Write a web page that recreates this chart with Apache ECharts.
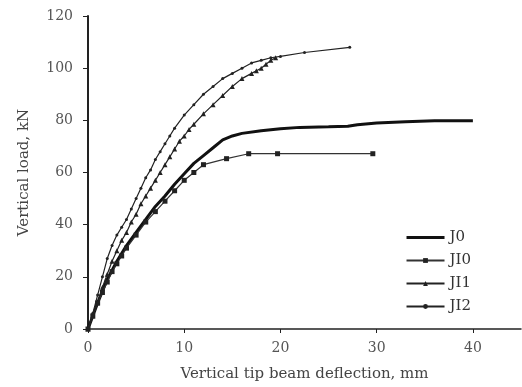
<!DOCTYPE html>
<html>
<head>
<meta charset="utf-8">
<script src="https://cdn.jsdelivr.net/npm/echarts@6/dist/echarts.min.js"></script>
<style>html,body{margin:0;padding:0;background:#fff}#c{width:522px;height:387px}</style>
</head>
<body>
<div id="c"></div>
<script>
const seriesNames = ['J0', 'JI0', 'JI1', 'JI2'];
const xTicks = [0, 10, 20, 30, 40];
const yTicks = [0, 20, 40, 60, 80, 100, 120];

const J0 = [[0,0],[1,10],[2,19],[3,26],[4,32],[5,37],[6,42],[7,47],[8,51],[9,55.5],[10,59.5],[11,63.5],[12,66.5],[13,69.5],[14,72.5],[15,74],[16,75],[18,76],[20,76.8],[22,77.3],[25,77.5],[27,77.7],[28,78.3],[30,79],[33,79.5],[36,79.8],[40,79.8]];
const JI0 = [[0,0],[0.5,5],[1,10],[1.5,14],[2,18],[2.5,22],[3,25],[3.5,28],[4,31],[5,36],[6,41],[7,45],[8,49],[9,53],[10,57],[11,60],[12,63],[14.4,65.3],[16.7,67.2],[19.7,67.2],[29.6,67.2]];
const JI1 = [[0,0],[0.5,5],[1,10],[1.5,16],[2,21],[2.5,26],[3,30],[3.5,34],[4,37],[4.5,41],[5,44],[5.5,48],[6,51],[6.5,54],[7,57],[7.5,60],[8,63],[8.5,66],[9,69],[9.5,72],[10,74],[10.5,76.5],[11,78.5],[12,82.5],[13,86],[14,89.5],[15,93],[16,96],[17,98],[17.5,99],[18,100],[18.5,101.5],[19,103],[19.5,104]];
const JI2 = [[0,0],[0.5,6],[1,13],[1.5,20],[2,27],[2.5,32],[3,36],[3.5,39],[4,42],[4.5,46],[5,50],[5.5,54],[6,58],[6.5,61],[7,65],[7.5,68],[8,71],[8.5,74],[9,77],[10,82],[11,86],[12,90],[13,93],[14,96],[15,98],[16,100],[17,102],[18,103],[19,104],[20,104.5],[22.5,106],[27.2,108]];

const serif = '"DejaVu Serif", "Liberation Serif", serif';
const chart = echarts.init(document.getElementById('c'));
chart.setOption({
  animation: false,
  backgroundColor: '#fff',
  grid: { left: 88, right: 1, top: 16, bottom: 53 },
  legend: {
    orient: 'vertical', right: 46, top: 225,
    itemWidth: 38, itemHeight: 6, itemGap: 8,
    textStyle: { fontFamily: serif, fontSize: 15, color: '#333' },
    data: [
      { name: 'J0', itemStyle: { opacity: 0 }, lineStyle: { width: 3, color: '#111' } },
      { name: 'JI0' }, { name: 'JI1' }, { name: 'JI2' }
    ]
  },
  xAxis: {
    type: 'value', min: xTicks[0], max: 45, interval: 10,
    name: 'Vertical tip beam deflection, mm', nameLocation: 'middle', nameGap: 38,
    nameTextStyle: { fontFamily: serif, fontSize: 15, color: '#444' },
    axisLine: { lineStyle: { color: '#222', width: 1.5 } },
    axisTick: { show: true, length: 4, lineStyle: { color: '#222' } },
    axisLabel: { fontFamily: serif, fontSize: 14, color: '#555', margin: 12, showMaxLabel: false,
      formatter: v => xTicks.includes(v) ? String(v) : '' },
    splitLine: { show: false }
  },
  yAxis: {
    type: 'value', min: yTicks[0], max: 120, interval: 20,
    name: 'Vertical load, kN', nameLocation: 'middle', nameGap: 56,
    nameTextStyle: { fontFamily: serif, fontSize: 15, color: '#444' },
    axisLine: { show: true, lineStyle: { color: '#222', width: 2 } },
    axisTick: { show: true, length: 5, lineStyle: { color: '#222' } },
    axisLabel: { fontFamily: serif, fontSize: 14, color: '#555', margin: 15 },
    splitLine: { show: false }
  },
  series: [
    { name: 'J0', type: 'line', data: J0, showSymbol: false, symbol: 'none',
      lineStyle: { color: '#111', width: 3 }, itemStyle: { color: '#111' } },
    { name: 'JI0', type: 'line', data: JI0, symbol: 'rect', symbolSize: 5,
      lineStyle: { color: '#333', width: 1.2 }, itemStyle: { color: '#222' } },
    { name: 'JI1', type: 'line', data: JI1, symbol: 'triangle', symbolSize: 5,
      lineStyle: { color: '#222', width: 1.2 }, itemStyle: { color: '#222' } },
    { name: 'JI2', type: 'line', data: JI2, symbol: 'circle', symbolSize: 3,
      lineStyle: { color: '#222', width: 1.2 }, itemStyle: { color: '#222' } }
  ]
});
</script>
</body>
</html>
